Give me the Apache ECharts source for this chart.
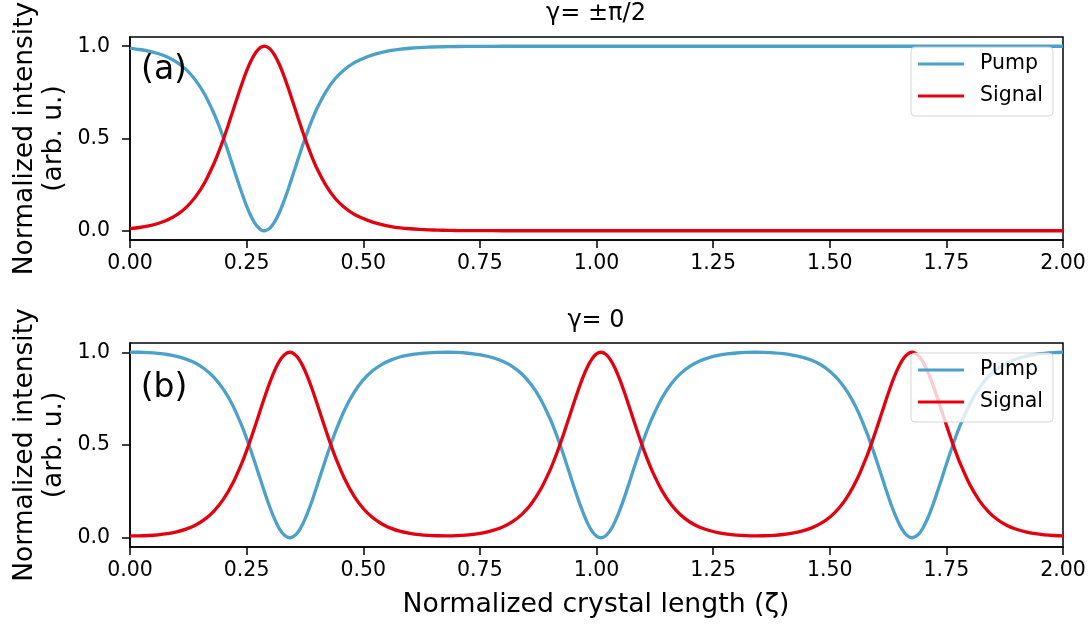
<!DOCTYPE html>
<html>
<head>
<meta charset="utf-8">
<script src="https://cdn.jsdelivr.net/npm/echarts@6/dist/echarts.min.js"></script>
<style>
  html, body { margin: 0; padding: 0; background: #ffffff; }
  #chart { width: 1092px; height: 631px; }
</style>
</head>
<body>
<div id="chart"></div>
<script>
// Axis ticks
const xTicks = [0, 0.25, 0.5, 0.75, 1.0, 1.25, 1.5, 1.75, 2.0];
const yTicks = [0, 0.5, 1.0];

// Panel (a): gamma = ±pi/2
const zetaA = [
  0, 0.02, 0.04, 0.06, 0.08, 0.10, 0.12, 0.14, 0.16, 0.18,
  0.19, 0.20, 0.21, 0.22, 0.23, 0.24, 0.25, 0.26, 0.27, 0.28,
  0.288, 0.29, 0.30, 0.31, 0.32, 0.33, 0.34, 0.35, 0.36, 0.37,
  0.38, 0.39, 0.40, 0.42, 0.44, 0.46, 0.48, 0.50, 0.52, 0.54,
  0.56, 0.58, 0.60, 0.62, 0.64, 0.66, 0.68, 0.70, 0.75, 0.80,
  0.90, 1.00, 1.25, 1.50, 1.75, 2.00];
const pumpA = [
  0.9882, 0.9823, 0.9737, 0.9608, 0.9419, 0.9143, 0.8743, 0.8177, 0.7394, 0.6353,
  0.5735, 0.5055, 0.4320, 0.3548, 0.2777, 0.2030, 0.1339, 0.0760, 0.0323, 0.0065,
  0.0000, 0.0004, 0.0145, 0.0478, 0.0976, 0.1604, 0.2320, 0.3086, 0.3860, 0.4618,
  0.5330, 0.5991, 0.6584, 0.7540, 0.8250, 0.8740, 0.9100, 0.9340, 0.9530, 0.9670,
  0.9770, 0.9840, 0.9890, 0.9925, 0.9950, 0.9965, 0.9976, 0.9984, 0.9994, 0.9998,
  0.9999, 1, 1, 1, 1, 1];
const signalA = [
  0.0118, 0.0177, 0.0263, 0.0392, 0.0581, 0.0857, 0.1257, 0.1823, 0.2606, 0.3647,
  0.4265, 0.4945, 0.5680, 0.6452, 0.7223, 0.7970, 0.8661, 0.9240, 0.9677, 0.9935,
  1.0000, 0.9996, 0.9855, 0.9522, 0.9024, 0.8396, 0.7680, 0.6914, 0.6140, 0.5382,
  0.4670, 0.4009, 0.3416, 0.2460, 0.1750, 0.1260, 0.0900, 0.0660, 0.0470, 0.0330,
  0.0230, 0.0160, 0.0110, 0.0075, 0.0050, 0.0035, 0.0024, 0.0016, 0.0006, 0.0002,
  0.0001, 0, 0, 0, 0, 0];

// Panel (b): gamma = 0
const zetaB = [
  0, 0.02, 0.04, 0.06, 0.08, 0.10, 0.12, 0.14, 0.16, 0.18,
  0.20, 0.22, 0.24, 0.25, 0.26, 0.27, 0.28, 0.29, 0.30, 0.31,
  0.32, 0.33, 0.3425, 0.35, 0.36, 0.37, 0.38, 0.39, 0.40, 0.41,
  0.42, 0.43, 0.44, 0.46, 0.48, 0.50, 0.52, 0.54, 0.56, 0.58,
  0.60, 0.62, 0.64, 0.66, 0.68, 0.70, 0.72, 0.74, 0.76, 0.78,
  0.80, 0.82, 0.84, 0.86, 0.88, 0.90, 0.91, 0.92, 0.93, 0.94,
  0.95, 0.96, 0.97, 0.98, 0.99, 1.00, 1.01, 1.02, 1.03, 1.04,
  1.05, 1.06, 1.07, 1.08, 1.09, 1.10, 1.11, 1.12, 1.14, 1.16,
  1.18, 1.20, 1.22, 1.24, 1.26, 1.28, 1.30, 1.32, 1.34, 1.36,
  1.38, 1.40, 1.42, 1.44, 1.46, 1.48, 1.50, 1.52, 1.54, 1.56,
  1.58, 1.59, 1.60, 1.61, 1.62, 1.63, 1.64, 1.65, 1.66, 1.67,
  1.6765, 1.69, 1.70, 1.71, 1.72, 1.73, 1.74, 1.75, 1.76, 1.77,
  1.78, 1.80, 1.82, 1.84, 1.86, 1.88, 1.90, 1.92, 1.94, 1.96,
  1.98, 2.00];
const pumpB = [
  1.000, 1.000, 0.998, 0.994, 0.988, 0.978, 0.963, 0.942, 0.910, 0.865,
  0.801, 0.715, 0.602, 0.536, 0.464, 0.388, 0.311, 0.234, 0.163, 0.100,
  0.049, 0.016, 0.000, 0.006, 0.030, 0.073, 0.130, 0.197, 0.272, 0.350,
  0.427, 0.500, 0.570, 0.689, 0.782, 0.851, 0.900, 0.935, 0.959, 0.976,
  0.986, 0.993, 0.997, 0.999, 1.000, 0.999, 0.996, 0.990, 0.982, 0.969,
  0.950, 0.923, 0.883, 0.826, 0.748, 0.644, 0.583, 0.515, 0.442, 0.365,
  0.287, 0.212, 0.143, 0.083, 0.037, 0.009, 0.000, 0.011, 0.041, 0.088,
  0.149, 0.219, 0.295, 0.373, 0.449, 0.522, 0.589, 0.650, 0.752, 0.829,
  0.885, 0.924, 0.952, 0.970, 0.983, 0.991, 0.996, 0.999, 1.000, 0.999,
  0.997, 0.993, 0.985, 0.974, 0.958, 0.934, 0.898, 0.848, 0.778, 0.684,
  0.563, 0.493, 0.419, 0.342, 0.264, 0.190, 0.124, 0.068, 0.027, 0.004,
  0.000, 0.018, 0.054, 0.105, 0.169, 0.242, 0.318, 0.396, 0.472, 0.543,
  0.608, 0.719, 0.805, 0.868, 0.912, 0.943, 0.964, 0.978, 0.988, 0.994,
  0.998, 1.000];
const signalB = [
  0.0103, 0.0104, 0.0121, 0.0158, 0.0220, 0.0317, 0.0462, 0.0676, 0.0988, 0.1437,
  0.2068, 0.2925, 0.4041, 0.4696, 0.5406, 0.6155, 0.6925, 0.7681, 0.8390, 0.9014,
  0.9510, 0.9845, 1.0000, 0.9944, 0.9700, 0.9280, 0.8716, 0.8045, 0.7306, 0.6539,
  0.5777, 0.5045, 0.4362, 0.3180, 0.2259, 0.1576, 0.1086, 0.0742, 0.0503, 0.0340,
  0.0240, 0.0171, 0.0128, 0.0106, 0.0102, 0.0113, 0.0143, 0.0195, 0.0280, 0.0408,
  0.0592, 0.0864, 0.1262, 0.1823, 0.2597, 0.3621, 0.4232, 0.4905, 0.5628, 0.6386,
  0.7154, 0.7900, 0.8589, 0.9177, 0.9629, 0.9910, 1.0000, 0.9890, 0.9592, 0.9124,
  0.8524, 0.7828, 0.7077, 0.6309, 0.5553, 0.4834, 0.4168, 0.3564, 0.2552, 0.1791,
  0.1239, 0.0848, 0.0580, 0.0401, 0.0273, 0.0192, 0.0141, 0.0112, 0.0101, 0.0107,
  0.0130, 0.0174, 0.0245, 0.0354, 0.0518, 0.0759, 0.1106, 0.1605, 0.2299, 0.3232,
  0.4427, 0.5116, 0.5852, 0.6616, 0.7382, 0.8115, 0.8777, 0.9330, 0.9733, 0.9958,
  1.0000, 0.9820, 0.9467, 0.8957, 0.8323, 0.7607, 0.6847, 0.6080, 0.5332, 0.4628,
  0.3980, 0.2877, 0.2031, 0.1411, 0.0969, 0.0661, 0.0454, 0.0314, 0.0217, 0.0156,
  0.0120, 0.0103];

const panelTitles = ['γ= ±π/2', 'γ= 0'];
const panelTags = ['(a)', '(b)'];
const seriesNames = ['Pump', 'Signal'];

const FONT = 'DejaVu Sans';
const PUMP_COLOR = '#4ba1c9';
const SIGNAL_COLOR = '#e3000f';

const pairs = (xs, ys) => xs.map((x, i) => [x, ys[i]]);

const grids = [
  { left: 130, right: 29, top: 37, height: 203 },
  { left: 130, right: 29, top: 343, height: 204 }
];
const panelCenterY = grids.map(g => g.top + g.height / 2);

const axisLineStyle = { color: '#000', width: 1.5 };

function makeXAxis(gridIndex) {
  return {
    type: 'value', gridIndex, min: 0, max: 2, interval: 0.25,
    axisLine: { show: true, onZero: false, lineStyle: axisLineStyle },
    axisTick: { show: true, length: 8, lineStyle: axisLineStyle, customValues: xTicks },
    axisLabel: {
      customValues: xTicks, formatter: v => v.toFixed(2), margin: 13,
      fontSize: 20.5, fontFamily: FONT, color: '#000', showMinLabel: true, showMaxLabel: true
    },
    splitLine: { show: false }
  };
}
function makeYAxis(gridIndex) {
  return {
    type: 'value', gridIndex, min: -0.05, max: 1.05,
    axisLine: { show: true, onZero: false, lineStyle: axisLineStyle },
    axisTick: { show: true, length: 8, lineStyle: axisLineStyle, customValues: yTicks },
    axisLabel: {
      customValues: yTicks, formatter: v => v.toFixed(1), margin: 20,
      fontSize: 20.5, fontFamily: FONT, color: '#000'
    },
    splitLine: { show: false }
  };
}

function lineSeries(name, idx, xs, ys, color) {
  return {
    name, type: 'line', xAxisIndex: idx, yAxisIndex: idx,
    data: pairs(xs, ys), showSymbol: false, symbol: 'none', smooth: 0.25,
    lineStyle: { width: 3.3, color }, itemStyle: { color },
    animation: false, silent: true
  };
}

function legendFor(top) {
  return {
    orient: 'vertical', right: 39, top,
    data: seriesNames, icon: 'rect', itemWidth: 46, itemHeight: 3, itemGap: 10,
    padding: [6, 10, 9, 7],
    backgroundColor: 'rgba(255,255,255,0.8)',
    borderColor: 'rgba(204,204,204,0.8)', borderWidth: 1, borderRadius: 4,
    selectedMode: false,
    textStyle: { fontSize: 20.5, fontFamily: FONT, color: '#000', lineHeight: 22, padding: [0, 0, 0, 11] }
  };
}

const chart = echarts.init(document.getElementById('chart'), null, { renderer: 'canvas' });

const option = {
  backgroundColor: '#ffffff',
  animation: false,
  grid: grids.map(g => Object.assign({ show: true, borderColor: '#000', borderWidth: 1.5, backgroundColor: 'transparent' }, g)),
  xAxis: [makeXAxis(0), makeXAxis(1)],
  yAxis: [makeYAxis(0), makeYAxis(1)],
  title: panelTitles.map((t, i) => ({
    text: t, left: 596, top: [2, 309][i], textAlign: 'center', padding: 0,
    textStyle: { fontSize: 24, fontWeight: 'normal', fontFamily: FONT, color: '#000' }
  })),
  legend: [legendFor(47), legendFor(353)],
  series: [
    lineSeries(seriesNames[0], 0, zetaA, pumpA, PUMP_COLOR),
    lineSeries(seriesNames[1], 0, zetaA, signalA, SIGNAL_COLOR),
    lineSeries(seriesNames[0], 1, zetaB, pumpB, PUMP_COLOR),
    lineSeries(seriesNames[1], 1, zetaB, signalB, SIGNAL_COLOR)
  ],
  graphic: [
    ...panelTags.map((t, i) => ({
      type: 'text', x: 164, y: [70, 388][i], z: 10,
      style: { text: t, font: '33px "DejaVu Sans"', fill: '#000',
               align: 'center', verticalAlign: 'middle', textAlign: 'center', textVerticalAlign: 'middle' }
    })),
    ...panelCenterY.map(cy => ({
      type: 'text', x: 40, y: cy, rotation: Math.PI / 2, z: 10,
      style: { text: 'Normalized intensity\n(arb. u.)', font: '26.5px "DejaVu Sans"', fill: '#000', lineHeight: 29,
               align: 'center', verticalAlign: 'middle', textAlign: 'center', textVerticalAlign: 'middle' }
    })),
    {
      type: 'text', x: 596, y: 605, z: 10,
      style: { text: 'Normalized crystal length (ζ)', font: '26.7px "DejaVu Sans"', fill: '#000',
               align: 'center', verticalAlign: 'middle', textAlign: 'center', textVerticalAlign: 'middle' }
    }
  ]
};

chart.setOption(option);
</script>
</body>
</html>
